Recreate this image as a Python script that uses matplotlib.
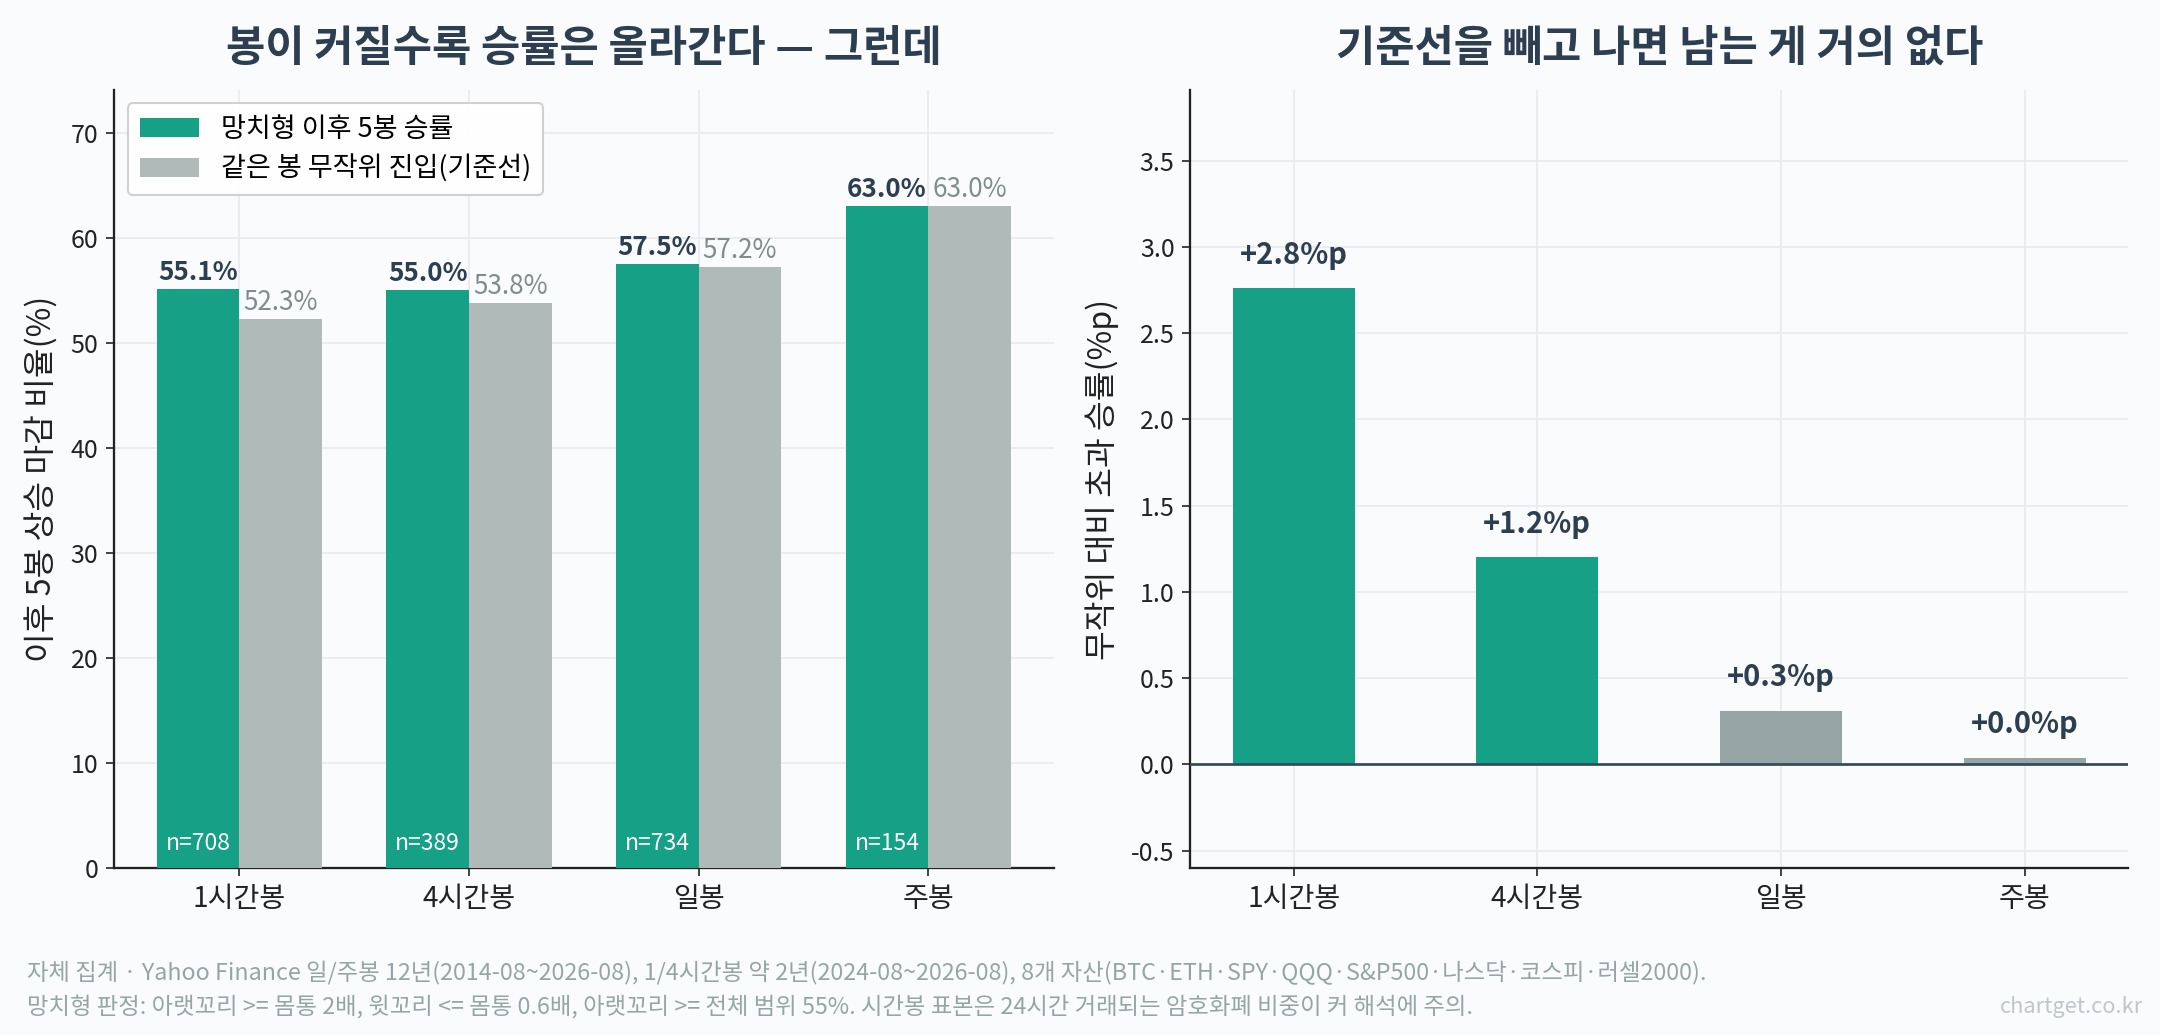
import matplotlib
matplotlib.use("Agg")
import matplotlib.pyplot as plt
import numpy as np

plt.rcParams['font.family'] = ['Noto Sans CJK KR', 'DejaVu Sans']
plt.rcParams['axes.unicode_minus'] = False

# ---- data ----
categories = ['1시간봉', '4시간봉', '일봉', '주봉']
hammer_win = [55.1, 55.0, 57.5, 63.0]
random_win = [52.3, 53.8, 57.2, 63.0]
sample_n = [708, 389, 734, 154]
excess = [2.76, 1.20, 0.31, 0.04]
excess_labels = ['+2.8%p', '+1.2%p', '+0.3%p', '+0.0%p']
significant = [True, True, False, False]

legend_labels = ['망치형 이후 5봉 승률', '같은 봉 무작위 진입(기준선)']
title_left = '봉이 커질수록 승률은 올라간다 — 그런데'
title_right = '기준선을 빼고 나면 남는 게 거의 없다'
ylabel_left = '이후 5봉 상승 마감 비율(%)'
ylabel_right = '무작위 대비 초과 승률(%p)'
footer1 = '자체 집계 · Yahoo Finance 일/주봉 12년(2014-08~2026-08), 1/4시간봉 약 2년(2024-08~2026-08), 8개 자산(BTC·ETH·SPY·QQQ·S&P500·나스닥·코스피·러셀2000).'
footer2 = '망치형 판정: 아랫꼬리 >= 몸통 2배, 윗꼬리 <= 몸통 0.6배, 아랫꼬리 >= 전체 범위 55%. 시간봉 표본은 24시간 거래되는 암호화폐 비중이 커 해석에 주의.'
watermark = 'chartget.co.kr'

# ---- style ----
BG = '#FAFBFD'
GREEN = '#16A085'
GRAY_L = '#AFBAB9'
GRAY_R = '#95A5A6'
DARK = '#2C3E50'
GRID = '#E9ECEF'

fig = plt.figure(figsize=(14.4, 6.9), dpi=150, facecolor=BG)
ax1 = fig.add_axes([0.0528, 0.1614, 0.435, 0.7517])
ax2 = fig.add_axes([0.551, 0.1614, 0.4343, 0.7517])

for ax in (ax1, ax2):
    ax.set_facecolor(BG)
    ax.spines['top'].set_visible(False)
    ax.spines['right'].set_visible(False)
    ax.spines['left'].set_color('#222222')
    ax.spines['bottom'].set_color('#222222')
    ax.spines['left'].set_linewidth(1.1)
    ax.spines['bottom'].set_linewidth(1.1)
    ax.grid(True, color=GRID, linewidth=0.9)
    ax.set_axisbelow(True)
    ax.tick_params(axis='y', labelsize=12, colors='#222222', length=4)
    ax.tick_params(axis='x', labelsize=13.5, colors='#222222', length=4)

# ---- left chart ----
x = np.arange(len(categories))
w = 0.36
ax1.bar(x - w / 2, hammer_win, w, color=GREEN, label=legend_labels[0], zorder=3)
ax1.bar(x + w / 2, random_win, w, color=GRAY_L, label=legend_labels[1], zorder=3)
ax1.set_ylim(0, 74.1)
ax1.set_xticks(x)
ax1.set_xticklabels(categories)
ax1.set_ylabel(ylabel_left, fontsize=15.5, color='#222222', labelpad=6)
ax1.set_title(title_left, fontsize=20.5, fontweight='bold', color=DARK, pad=14)
for i in range(len(categories)):
    ax1.annotate(f'{hammer_win[i]:.1f}%', (x[i] - w / 2, hammer_win[i]), xytext=(0, 1.5),
                 textcoords='offset points', ha='center', va='bottom',
                 fontsize=12.5, fontweight='bold', color=DARK)
    ax1.annotate(f'{random_win[i]:.1f}%', (x[i] + w / 2, random_win[i]), xytext=(0, 1.5),
                 textcoords='offset points', ha='center', va='bottom',
                 fontsize=12.5, color='#7F8C8D')
    ax1.text(x[i] - w / 2, 1.2, f'n={sample_n[i]}', ha='center', va='bottom',
             fontsize=11, color='white', zorder=4)
ax1.legend(loc='upper left', fontsize=13, frameon=True, fancybox=True,
           edgecolor='#CCCCCC', facecolor='white', framealpha=0.9,
           borderpad=0.45, handlelength=2.2, labelspacing=0.45)

# ---- right chart ----
colors_r = [GREEN if s else GRAY_R for s in significant]
ax2.bar(x, excess, 0.5, color=colors_r, zorder=3)
ax2.axhline(0, color='#34495E', linewidth=1.3, zorder=4)
ax2.set_ylim(-0.6, 3.91)
ax2.set_yticks([-0.5, 0.0, 0.5, 1.0, 1.5, 2.0, 2.5, 3.0, 3.5])
ax2.set_yticklabels(['-0.5', '0.0', '0.5', '1.0', '1.5', '2.0', '2.5', '3.0', '3.5'])
ax2.set_xticks(x)
ax2.set_xticklabels(categories)
ax2.set_ylabel(ylabel_right, fontsize=15.5, color='#222222', labelpad=6)
ax2.set_title(title_right, fontsize=20.5, fontweight='bold', color=DARK, pad=14)
for i in range(len(categories)):
    ax2.annotate(excess_labels[i], (x[i], excess[i]), xytext=(0, 9),
                 textcoords='offset points', ha='center', va='bottom',
                 fontsize=14, fontweight='bold', color=DARK)

# ---- footer ----
fig.text(0.0127, 0.06, footer1, fontsize=11.2, color='#95A5A6', ha='left', va='center')
fig.text(0.0127, 0.027, footer2, fontsize=11.2, color='#95A5A6', ha='left', va='center')
fig.text(0.992, 0.027, watermark, fontsize=10.5, color='#C0C6CC', ha='right', va='center')

fig.savefig('out.png', dpi=150, facecolor=BG)
